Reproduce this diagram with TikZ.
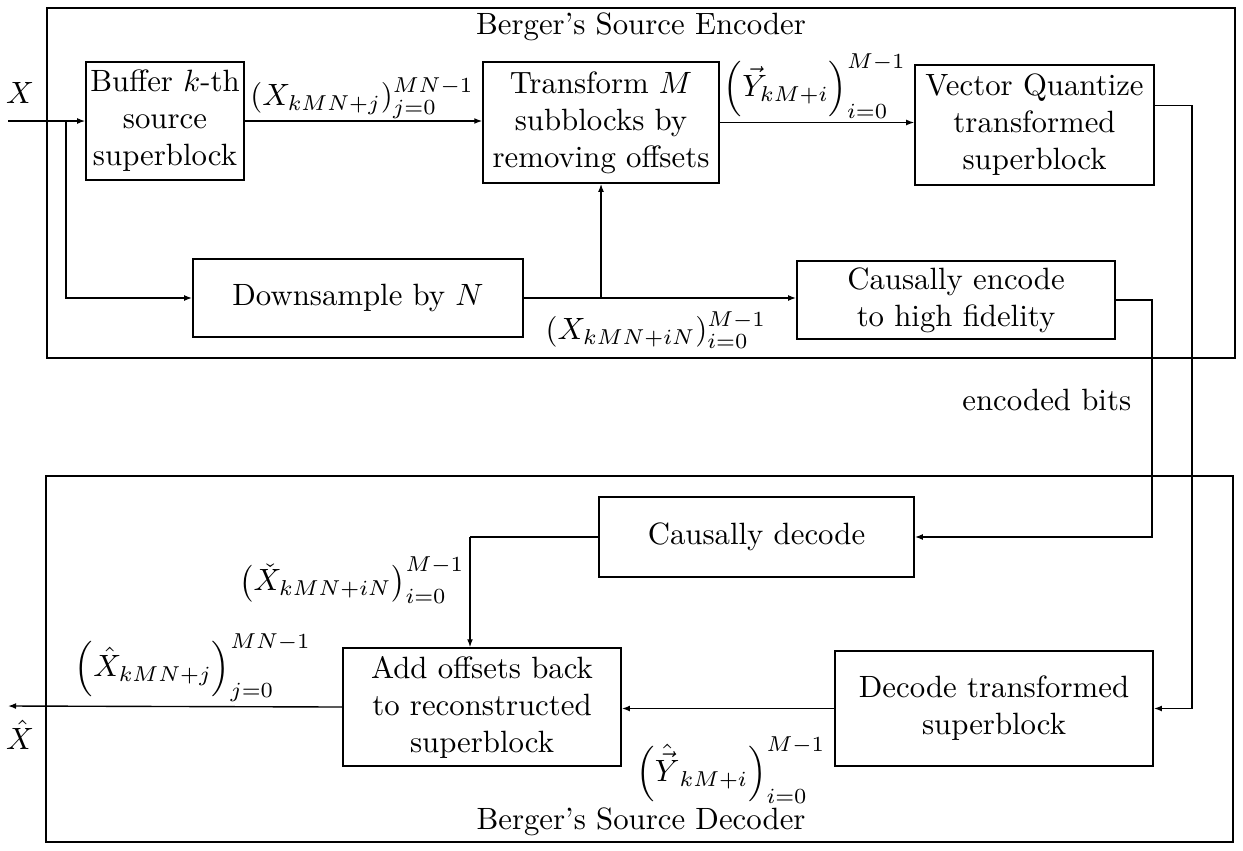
\documentclass[tikz,border=0pt]{standalone}
\usetikzlibrary{arrows.meta,calc}
\begin{document}
\begin{tikzpicture}[x=0.3247pt,y=-0.3247pt,
  blk/.style={draw,line width=0.5pt,rectangle,inner sep=0pt,align=center},
  frame/.style={draw,line width=0.5pt},
  arr/.style={line width=0.45pt,-{Latex[length=2.6pt,width=1.9pt]}},
  wire/.style={line width=0.45pt}]
\useasboundingbox (0,0) rectangle (1243,850);

% encoder and decoder frames
\draw[frame] (47,8) rectangle (1235,358);
\draw[frame] (46,476) rectangle (1233,842);
\node (enct) at (641,27) {Berger's Source Encoder};
\node (dect0) at (641,822) {Berger's Source Decoder};

% encoder blocks
\node[blk,minimum width=51.3pt,minimum height=38.3pt] (buf) at (165,121)
  {Buffer $k$-th\\source\\superblock};
\node[blk,minimum width=76.6pt,minimum height=39.3pt] (tr) at (601,122.5)
  {Transform $M$\\subblocks by\\removing offsets};
\node[blk,minimum width=77.6pt,minimum height=39.0pt] (vq) at (1034.5,125)
  {Vector Quantize\\transformed\\superblock};
\node[blk,minimum width=107.2pt,minimum height=25.3pt] (down) at (358,298)
  {Downsample by $N$};
\node[blk,minimum width=103.3pt,minimum height=25.3pt] (ce) at (956,300)
  {Causally encode\\to high fidelity};

% decoder blocks
\node[blk,minimum width=102.3pt,minimum height=26pt] (cdec) at (756.5,537)
  {Causally decode};
\node[blk,minimum width=90.3pt,minimum height=38.3pt] (add) at (482,707)
  {Add offsets back\\to reconstructed\\superblock};
\node[blk,minimum width=103.3pt,minimum height=37.3pt] (dtr) at (994,708.5)
  {Decode transformed\\superblock};

% signal labels
\node (xlab) at (20,93) {$X$};
\node (xhat) at (20,735) {$\hat{X}$};
\node (l1) at (362,98) {$(X_{kMN+j})_{j=0}^{MN-1}$};
\node (l2) at (815,86) {$\left(\vec{Y}_{kM+i}\right)_{i=0}^{M-1}$};
\node (l3) at (656,330) {$(X_{kMN+iN})_{i=0}^{M-1}$};
\node[anchor=east] (bits) at (1142,400) {encoded bits};
\node (l4) at (352,580) {$\left(\check{X}_{kMN+iN}\right)_{i=0}^{M-1}$};
\node (l5) at (193,668) {$\left(\hat{X}_{kMN+j}\right)_{j=0}^{MN-1}$};
\node (l6) at (731,770) {$\left(\hat{\vec{Y}}_{kM+i}\right)_{i=0}^{M-1}$};

% route points
\coordinate (xin) at (8,121);
\coordinate (br) at (66,121);
\coordinate (tap) at (601,298);
\coordinate (vqo) at ($(vq.north east)!0.34!(vq.south east)$);
\coordinate (vqr) at (1192,400);
\coordinate (cer) at (1152,400);
\coordinate (cdl) at (470,537);
\coordinate (xout) at (8,706);

% encoder connections
\draw[arr] (xin) -- (buf.west);
\draw[arr] (br) |- (down.west);
\draw[arr] (buf.east) -- (buf.east -| tr.west);
\draw[arr] (tr.east) -- (tr.east -| vq.west);
\draw[arr] (down.east) -- (down.east -| ce.west);
\draw[arr] (tap) -- (tr.south);

% links between encoder and decoder
\draw[arr] (vqo) -| (vqr) |- (dtr.east);
\draw[arr] (ce.east) -| (cer) |- (cdec.east);

% decoder connections
\draw[wire] (cdec.west) -- (cdl);
\draw[arr] (cdl) -- (cdl |- add.north);
\draw[arr] (dtr.west) -- (dtr.west -| add.east);
\draw[arr] (add.west) -- (xout);
\end{tikzpicture}
\end{document}
